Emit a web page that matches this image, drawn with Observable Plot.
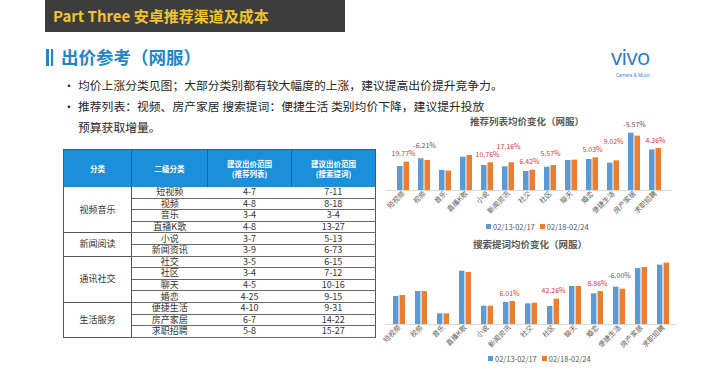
<!DOCTYPE html>
<html><head><meta charset="utf-8">
<script src="https://cdn.jsdelivr.net/npm/d3@7"></script>
<script src="https://cdn.jsdelivr.net/npm/@observablehq/plot@0.6"></script>
<style>
body{margin:0;background:#fff;}
#slide{position:relative;width:720px;height:371px;overflow:hidden;background:#fff;font-family:"Noto Sans CJK SC","Noto Sans",sans-serif;color:#262626;}
.abs{position:absolute;white-space:nowrap;}
#hdr{left:45px;top:0;width:300px;height:32px;background:#3d3d3d;color:#f0c42a;font-weight:700;font-size:15px;line-height:31px;padding-left:8px;box-sizing:border-box;}
#ttl{left:61px;top:47px;font-size:17.5px;font-weight:700;color:#1f86c8;line-height:20px;}
.bar{position:absolute;background:#1f86c8;}
.bl{font-size:11.8px;line-height:14px;color:#262626;}
table{border-collapse:collapse;table-layout:fixed;}
#tbl{left:63px;top:149px;}
#tbl th{background:#1b8fd9;color:#fff;font-size:7.5px;font-weight:700;line-height:10px;height:37px;padding:0;border-left:1px solid #555;border-right:1px solid #555;border-top:1px solid #555;}
#tbl td{font-size:9px;line-height:10px;height:10.6px;padding:0;text-align:center;color:#333;border-bottom:1px solid #6a6a6a;}
#tbl td.g{border-left:1px solid #555;border-right:1px solid #555;border-bottom:1px solid #555;}
#tbl td.last{border-right:1px solid #555;}
.ct{font-size:9.5px;font-weight:700;color:#595959;}
.lg{font-size:7.5px;color:#595959;display:flex;align-items:center;}
.sw{display:inline-block;width:5px;height:5px;margin-right:2px;}
</style></head>
<body><div id="slide"></div>
<script>
// ---------- data ----------
const headerText = "Part Three 安卓推荐渠道及成本";
const titleText = "出价参考（网服）";
const bulletLines = [
  "均价上涨分类见图；大部分类别都有较大幅度的上涨，建议提高出价提升竞争力。",
  "推荐列表：视频、房产家居 搜索提词：便捷生活 类别均价下降，建议提升投放",
  "预算获取增量。"
];
const tableHeaders = ["分类", "二级分类", "建议出价范围<br>(推荐列表)", "建议出价范围<br>(搜索提词)"];
const groupNames = ["视频音乐", "新闻阅读", "通讯社交", "生活服务"];
const groupSizes = [4, 2, 4, 3];
const categories = ["短视频","视频","音乐","直播K歌","小说","新闻资讯","社交","社区","聊天","婚恋","便捷生活","房产家居","求职招聘"];
const recRange = ["4-7","4-8","3-4","4-8","3-7","3-9","3-5","3-4","4-5","4-25","4-10","6-7","5-8"];
const searchRange = ["7-11","8-18","3-4","13-27","5-13","6-73","6-15","7-12","10-16","9-15","9-31","14-22","15-27"];
const seriesNames = ["02/13-02/17", "02/18-02/24"];
const recTitle = "推荐列表均价变化（网服）";
const recBefore = [3.6, 4.75, 3.0, 5.0, 3.75, 3.55, 2.85, 3.5, 4.5, 4.65, 4.1, 8.6, 6.1];
const recAfter  = [4.25, 4.5, 2.9, 5.25, 4.15, 4.15, 3.05, 3.75, 4.55, 4.9, 4.45, 8.15, 6.3];
const recLabels = ["19.77%","-6.21%",null,null,"10.76%","17.16%","6.42%","5.57%",null,"5.03%","9.02%","-5.57%","4.36%"];
const searchTitle = "搜索提词均价变化（网服）";
const searchBefore = [8.4, 9.9, 3.2, 16.0, 5.5, 6.6, 6.2, 5.4, 11.4, 9.2, 11.2, 16.8, 17.8];
const searchAfter  = [8.7, 9.9, 3.2, 15.6, 5.5, 6.9, 6.4, 7.6, 11.4, 9.9, 10.6, 17.1, 18.4];
const searchLabels = [null,null,null,null,null,"6.01%",null,"42.26%",null,"8.86%","-6.00%",null,null];

const BLUE = "#5b9bd5", ORANGE = "#ed7d31", RED = "#e0353f", GRAY = "#595959";
const FONT = '"Noto Sans CJK SC","Noto Sans",sans-serif';

const slide = document.getElementById("slide");
function add(html, cls, style) {
  const d = document.createElement("div");
  d.className = "abs " + (cls || "");
  d.innerHTML = html;
  Object.assign(d.style, style || {});
  slide.appendChild(d);
  return d;
}
// header + title
const h = add(headerText, ""); h.id = "hdr";
const t = add(titleText, ""); t.id = "ttl";
add("", "bar", {left:"46px", top:"49px", width:"3px", height:"17px"});
add("", "bar", {left:"50.5px", top:"49px", width:"2px", height:"17px"});
// logo
add("vivo", "", {left:"611px", top:"47px", fontFamily:'"Open Sans",sans-serif', fontSize:"22px", color:"#2c78c8", letterSpacing:"-0.5px", lineHeight:"18px"});
add("Camera &amp; Music", "", {left:"616px", top:"72.5px", fontFamily:'"Open Sans",sans-serif', fontSize:"4.5px", lineHeight:"5px", color:"#2c78c8"});
// bullets
const bulletY = [78, 99, 120];
bulletLines.forEach((s, i) => {
  if (i < 2) add("•", "bl", {left:"63px", top: bulletY[i] + "px"});
  add(s, "bl", {left:"78px", top: bulletY[i] + "px"});
});
// table
const tw = [68, 76, 84, 84];
let html = '<table><colgroup>' + tw.map(w => `<col style="width:${w}px">`).join("") + '</colgroup><tr>' +
  tableHeaders.map(s => `<th>${s}</th>`).join("") + '</tr>';
let k = 0;
groupNames.forEach((g, gi) => {
  for (let j = 0; j < groupSizes[gi]; j++, k++) {
    html += '<tr>';
    if (j === 0) html += `<td class="g" rowspan="${groupSizes[gi]}">${g}</td>`;
    html += `<td>${categories[k]}</td><td>${recRange[k]}</td><td class="last">${searchRange[k]}</td></tr>`;
  }
});
html += '</table>';
const tb = add(html, ""); tb.id = "tbl";

// ---------- charts ----------
function barChart({left, top, width, height, ml, mr, mt, mb, yMax, before, after, labels}) {
  const data = categories.map((c, i) => ({c, a: before[i], b: after[i], label: labels[i]}));
  const ppu = (height - mt - mb) / yMax;
  let prev = null;
  data.forEach((d, i) => {
    if (!d.label) { prev = null; return; }
    let px = Math.max(d.a, d.b) * ppu + 8;
    if (prev && prev.i === i - 1 && Math.abs(px - prev.px) < 8) px = prev.px + 8;
    d.ly = px / ppu;
    prev = {i, px};
  });
  const pi = 0.45, po = 0.3;
  const step = (width - ml - mr) / (categories.length - pi + 2 * po);
  const bw = step * (1 - pi);
  const lab = data.filter(d => d.label);
  const chart = Plot.plot({
    width, height, marginLeft: ml, marginRight: mr, marginTop: mt, marginBottom: mb,
    style: {fontFamily: FONT, fontSize: "7px", color: GRAY, background: "transparent", overflow: "visible"},
    x: {domain: categories, paddingInner: pi, paddingOuter: po, tickRotate: -45, tickSize: 0, tickPadding: 2, label: null},
    y: {domain: [0, yMax], axis: null},
    marks: [
      Plot.barY(data, {x: "c", y: "a", fill: BLUE, insetRight: bw / 2 + 0.5}),
      Plot.barY(data, {x: "c", y: "b", fill: ORANGE, insetLeft: bw / 2 + 0.5}),
      Plot.ruleY([0], {stroke: "#d9d9d9"}),
      Plot.text(lab.filter(d => !d.label.startsWith("-")), {x: "c", y: "ly", text: "label", fill: RED, fontSize: 7}),
      Plot.text(lab.filter(d => d.label.startsWith("-")), {x: "c", y: "ly", text: "label", fill: GRAY, fontSize: 7})
    ]
  });
  const wrap = add("", "", {left: left + "px", top: top + "px"});
  wrap.appendChild(chart);
}
function legend(left, top) {
  const d = add("", "lg", {left: left + "px", top: top + "px"});
  d.innerHTML = seriesNames.map((s, i) => `<span class="sw" style="background:${i ? ORANGE : BLUE}"></span><span style="margin-right:${i ? 0 : 5}px">${s}</span>`).join("");
}
add(recTitle, "ct", {left: "470px", top: "114px"});
barChart({left: 372, top: 118, width: 305, height: 98, ml: 13.5, mr: 5.5, mt: 6, mb: 26, yMax: 9.9,
  before: recBefore, after: recAfter, labels: recLabels});
legend(486, 221);
add(searchTitle, "ct", {left: "473px", top: "237px"});
barChart({left: 372, top: 256, width: 310, height: 95, ml: 13.3, mr: 6.1, mt: 4, mb: 27, yMax: 19.2,
  before: searchBefore, after: searchAfter, labels: searchLabels});
legend(488, 353);
</script>
</body></html>
